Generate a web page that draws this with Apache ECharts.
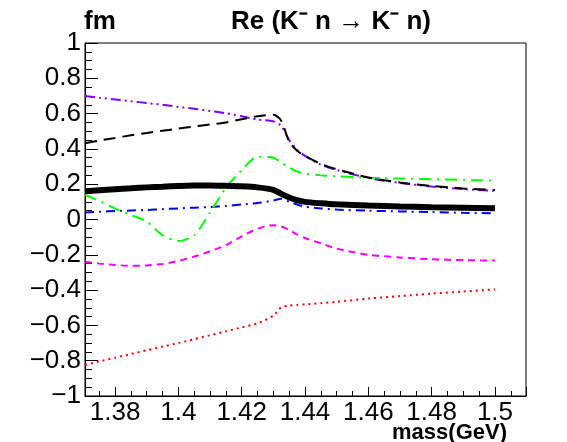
<!DOCTYPE html>
<html>
<head>
<meta charset="utf-8">
<script src="https://cdn.jsdelivr.net/npm/echarts@6/dist/echarts.min.js"></script>
<style>
  html, body { margin: 0; padding: 0; background: #fff; }
  #container { width: 567px; height: 442px; }
</style>
</head>
<body>
<div id="container"></div>
<script>
  // mass points (GeV)
  let mass = [1.3705, 1.375, 1.38, 1.385, 1.39, 1.395, 1.40, 1.405, 1.41, 1.415, 1.42, 1.425,
    1.43, 1.4325, 1.435, 1.4375, 1.44, 1.445, 1.45, 1.46, 1.47, 1.48, 1.49, 1.50];

  // Re amplitudes (fm)
  let total = [0.16, 0.166, 0.172, 0.177, 0.182, 0.186, 0.19, 0.192, 0.193, 0.191, 0.188, 0.182,
    0.168, 0.145, 0.125, 0.11, 0.10, 0.092, 0.086, 0.079, 0.074, 0.07, 0.067, 0.064];
  let blackDash = [0.432, 0.447, 0.462, 0.477, 0.49, 0.503, 0.515, 0.527, 0.538, 0.55, 0.568, 0.585,
    0.594, 0.56, 0.44, 0.39, 0.36, 0.315, 0.285, 0.238, 0.21, 0.19, 0.176, 0.167];
  let violet = [0.70, 0.69, 0.68, 0.67, 0.66, 0.65, 0.638, 0.627, 0.615, 0.602, 0.585, 0.566,
    0.556, 0.53, 0.45, 0.395, 0.36, 0.31, 0.28, 0.235, 0.207, 0.187, 0.172, 0.162];
  let green = [0.14, 0.105, 0.062, 0.025, -0.012, -0.09, -0.122, -0.09, 0.04, 0.18, 0.28, 0.355,
    0.35, 0.322, 0.295, 0.271, 0.26, 0.25, 0.245, 0.237, 0.232, 0.228, 0.224, 0.22];
  let blue = [0.04, 0.044, 0.048, 0.051, 0.054, 0.059, 0.063, 0.067, 0.071, 0.077, 0.085, 0.093,
    0.108, 0.118, 0.10, 0.085, 0.072, 0.063, 0.056, 0.05, 0.046, 0.042, 0.038, 0.035];
  let magenta = [-0.239, -0.25, -0.258, -0.262, -0.26, -0.252, -0.235, -0.21, -0.18, -0.145, -0.095, -0.052,
    -0.032, -0.04, -0.06, -0.085, -0.105, -0.135, -0.165, -0.2, -0.215, -0.225, -0.23, -0.233];
  let red = [-0.824, -0.804, -0.783, -0.762, -0.741, -0.72, -0.70, -0.678, -0.656, -0.634, -0.611, -0.588,
    -0.545, -0.497, -0.488, -0.484, -0.481, -0.474, -0.466, -0.448, -0.434, -0.42, -0.408, -0.396];

  function pairs(ys) {
    return mass.map(function (m, i) { return [m, ys[i]]; });
  }

  function line(ys, color, width, dash) {
    return {
      type: 'line',
      data: pairs(ys),
      smooth: 0.25,
      symbol: 'none',
      lineStyle: { color: color, width: width, type: dash }
    };
  }

  let myChart = echarts.init(document.getElementById('container'));
  let font = 'Liberation Sans, Arial, sans-serif';
  let bold = function (size) {
    return { fontFamily: font, fontSize: size, fontWeight: 'bold', color: '#000' };
  };

  let option = {
    animation: false,
    backgroundColor: '#fff',
    title: [
      { text: 'fm', left: 79, top: 4, textStyle: bold(26) },
      { text: 'Re (K\u207B n \u2192 K\u207B n)', left: 226, top: 4, textStyle: bold(26) },
      { text: 'mass(GeV)', right: 55, top: 417, textStyle: bold(22) }
    ],
    grid: {
      left: 85, right: 41, top: 43, bottom: 46,
      show: true, borderColor: '#000', borderWidth: 1, backgroundColor: 'transparent'
    },
    xAxis: {
      type: 'value',
      min: 1.3705,
      max: 1.5098,
      splitNumber: 7,
      axisLine: { onZero: false, lineStyle: { color: '#000', width: 1 } },
      axisTick: { inside: true, length: 9, lineStyle: { color: '#000' } },
      minorTick: { show: true, splitNumber: 4, length: 5, lineStyle: { color: '#000' } },
      splitLine: { show: false },
      axisLabel: {
        showMinLabel: false, showMaxLabel: false,
        fontFamily: font, fontSize: 26, color: '#000', margin: 4
      }
    },
    yAxis: {
      type: 'value',
      min: -1,
      max: 1,
      interval: 0.2,
      axisLine: { onZero: false, lineStyle: { color: '#000', width: 1 } },
      axisTick: { inside: true, length: 13, lineStyle: { color: '#000' } },
      minorTick: { show: true, splitNumber: 4, length: 7, lineStyle: { color: '#000' } },
      splitLine: { show: false },
      axisLabel: {
        fontFamily: font, fontSize: 26, color: '#000', margin: 4,
        formatter: function (v) { return String(+v.toFixed(2)).replace('-', '\u2212'); }
      }
    },
    series: [
      line(red, '#ff0000', 2, [2, 4]),
      line(magenta, '#ff00ff', 2, [7, 5]),
      line(blue, '#0000ff', 2, [9, 5, 2, 5]),
      line(green, '#00ff00', 2, [12, 6, 2, 6]),
      line(violet, '#7f00ff', 2, [10, 4, 2, 4, 2, 4]),
      line(blackDash, '#000000', 2, [12, 7]),
      line(total, '#000000', 6, 'solid')
    ]
  };

  if (option && typeof option === 'object') {
    myChart.setOption(option, true);
  }
</script>
</body>
</html>
